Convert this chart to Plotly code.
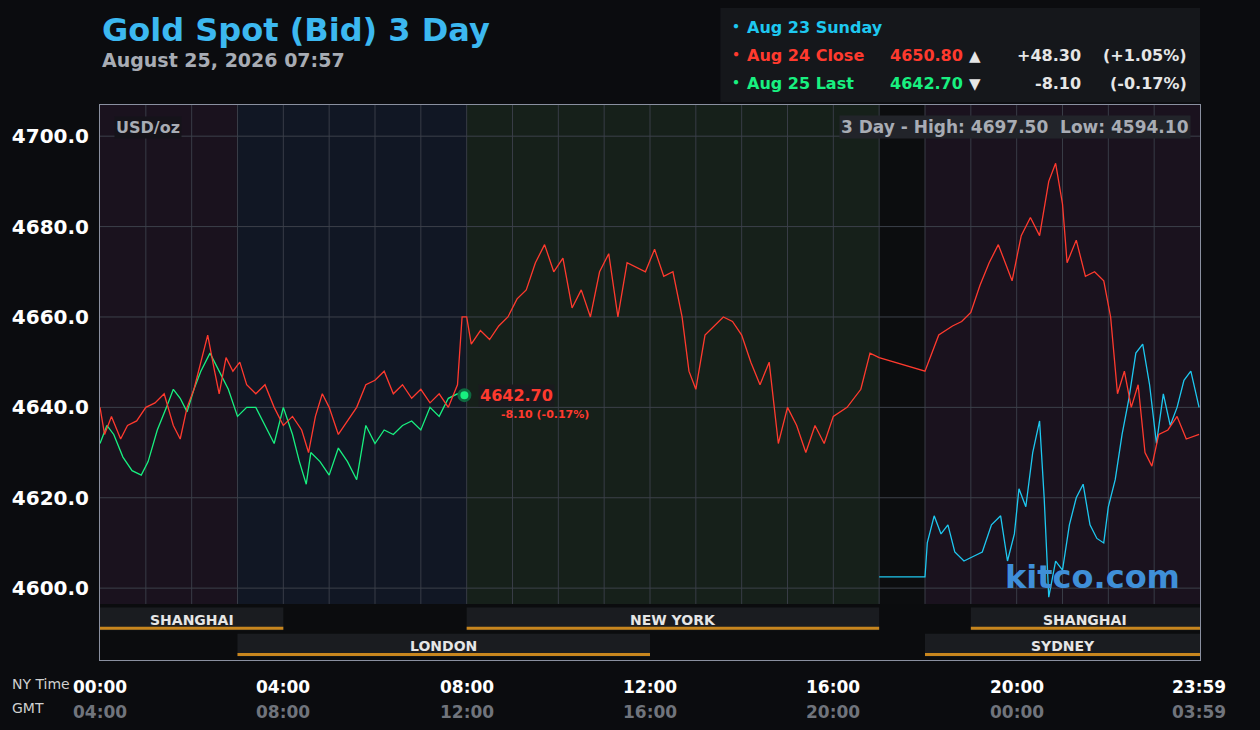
import plotly.graph_objects as go

# hours (NY time) and prices
red_h = [0, 0.1, 0.25, 0.45, 0.6, 0.8, 1.0, 1.2, 1.4, 1.6, 1.75, 1.9, 2.05, 2.2, 2.35, 2.5, 2.6, 2.75, 2.9, 3.05, 3.2, 3.4, 3.6, 3.8, 4.0,
         4.2, 4.4, 4.55, 4.7, 4.85, 5.0, 5.2, 5.4, 5.6, 5.8, 6.0, 6.2, 6.4, 6.6, 6.8, 7.0, 7.2, 7.4, 7.6, 7.8, 7.9, 8.0, 8.1,
         8.3, 8.5, 8.7, 8.9, 9.1, 9.3, 9.5, 9.7, 9.9, 10.1, 10.3, 10.5, 10.7, 10.9, 11.1, 11.3, 11.5, 11.7, 11.9, 12.1, 12.3,
         12.5, 12.7, 12.85, 13.0, 13.2, 13.4, 13.6, 13.8, 14.0, 14.2, 14.4, 14.6, 14.8, 15.0, 15.2, 15.4, 15.6, 15.8, 16.0,
         16.3, 16.6, 16.8, 17.0, 18.0, 18.1, 18.3, 18.6, 18.8, 19.0, 19.2, 19.4, 19.6, 19.9, 20.1, 20.3, 20.5, 20.7, 20.85,
         21.0, 21.1, 21.3, 21.5, 21.7, 21.9, 22.05, 22.2, 22.35, 22.5, 22.65, 22.8, 22.95, 23.1, 23.3, 23.5, 23.7, 23.98]
red_v = [4640, 4634, 4638, 4633, 4636, 4637, 4640, 4641, 4643, 4636, 4633, 4640, 4644, 4650, 4656, 4648, 4643, 4651, 4648, 4650, 4645, 4643, 4645, 4640, 4636,
         4638, 4635, 4630, 4638, 4643, 4640, 4634, 4637, 4640, 4645, 4646, 4648, 4643, 4645, 4642, 4644, 4641, 4643, 4640, 4645, 4660, 4660, 4654,
         4657, 4655, 4658, 4660, 4664, 4666, 4672, 4676, 4670, 4673, 4662, 4666, 4660, 4670, 4674, 4660, 4672, 4671, 4670, 4675, 4669,
         4670, 4660, 4648, 4644, 4656, 4658, 4660, 4659, 4656, 4650, 4645, 4650, 4632, 4640, 4636, 4630, 4636, 4632, 4638,
         4640, 4644, 4652, 4651, 4648, 4650.8, 4656, 4658, 4659, 4661, 4667, 4672, 4676, 4668, 4678, 4682, 4678, 4690, 4694,
         4685, 4672, 4677, 4669, 4670, 4668, 4660, 4643, 4648, 4640, 4645, 4630, 4627, 4634, 4635, 4638, 4633, 4634]
green_h = [0, 0.15, 0.3, 0.5, 0.7, 0.9, 1.05, 1.25, 1.45, 1.6, 1.75, 1.9, 2.05, 2.2, 2.4, 2.6, 2.8, 3.0, 3.2, 3.4, 3.6, 3.8, 4.0, 4.2,
           4.35, 4.5, 4.6, 4.8, 5.0, 5.2, 5.4, 5.6, 5.8, 6.0, 6.2, 6.4, 6.6, 6.8, 7.0, 7.2, 7.4, 7.6, 7.8, 7.95]
green_v = [4632, 4636, 4634, 4629, 4626, 4625, 4628, 4635, 4640, 4644, 4642, 4639, 4644, 4648, 4652, 4648, 4644, 4638, 4640, 4640, 4636, 4632, 4640, 4634,
           4628, 4623, 4630, 4628, 4625, 4631, 4628, 4624, 4636, 4632, 4635, 4634, 4636, 4637, 4635, 4640, 4638, 4642, 4643, 4642.7]
blue_h = [17.0, 18.0, 18.05, 18.2, 18.35, 18.5, 18.65, 18.85, 19.05, 19.25, 19.45, 19.65, 19.8, 19.95, 20.05, 20.2, 20.35, 20.5, 20.6,
          20.7, 20.85, 21.0, 21.15, 21.3, 21.45, 21.6, 21.75, 21.9, 22.0, 22.15, 22.3, 22.45, 22.6, 22.75, 22.9, 23.05, 23.2,
          23.35, 23.5, 23.65, 23.8, 23.98]
blue_v = [4602.5, 4602.5, 4610, 4616, 4612, 4614, 4608, 4606, 4607, 4608, 4614, 4616, 4606, 4612, 4622, 4618, 4630, 4637, 4620,
          4598, 4606, 4604, 4614, 4620, 4623, 4614, 4611, 4610, 4618, 4624, 4634, 4642, 4652, 4654, 4645, 4632, 4643,
          4636, 4640, 4646, 4648, 4640]

ticks_ny = ["00:00", "04:00", "08:00", "12:00", "16:00", "20:00", "23:59"]
ticks_gmt = ["04:00", "08:00", "12:00", "16:00", "20:00", "00:00", "03:59"]
tick_h = [0, 4, 8, 12, 16, 20, 23.98]

YLO, YHI = 4584.1, 4706.9
BAR_TOP = 4596.5
FONT = "DejaVu Sans"

fig = go.Figure()
fig.add_trace(go.Scatter(x=blue_h, y=blue_v, mode="lines", line=dict(color="#1ec8f0", width=1.3)))
fig.add_trace(go.Scatter(x=green_h, y=green_v, mode="lines", line=dict(color="#18f080", width=1.3)))
fig.add_trace(go.Scatter(x=red_h, y=red_v, mode="lines", line=dict(color="#ff3a2e", width=1.3)))
fig.add_trace(go.Scatter(x=[green_h[-1]], y=[green_v[-1]], mode="markers",
                         marker=dict(color="#18f080", size=11, line=dict(color="#0f6a40", width=3))))

shapes = []
for x0, x1, c in [(0, 3, "#1a121e"), (3, 8, "#111724"), (8, 17, "#16201a"), (17, 18, "#0c0d0f"), (18, 24, "#1a121e")]:
    shapes.append(dict(type="rect", x0=x0, x1=x1, y0=BAR_TOP, y1=YHI, fillcolor=c, line_width=0, layer="below"))
shapes.append(dict(type="rect", x0=0, x1=24, y0=YLO, y1=BAR_TOP, fillcolor="#0b0c0e", line_width=0, layer="below"))
for h in range(1, 24):
    shapes.append(dict(type="line", x0=h, x1=h, y0=BAR_TOP, y1=YHI, line=dict(color="#383c46", width=1), layer="below"))
for v in range(4600, 4701, 20):
    shapes.append(dict(type="line", x0=0, x1=24, y0=v, y1=v, line=dict(color="#3c404a", width=1), layer="below"))

ann = []
sessions = [(0, 4, 1, "SHANGHAI"), (8, 17, 1, "NEW YORK"), (19, 24, 1, "SHANGHAI"), (3, 12, 0, "LONDON"), (18, 24, 0, "SYDNEY")]
for x0, x1, row, name in sessions:
    yb = YLO + (0 if row == 0 else 5.8)
    shapes.append(dict(type="rect", x0=x0, x1=x1, y0=yb + 0.8, y1=yb + 5.8, fillcolor="#1a1c20", line_width=0, layer="below"))
    shapes.append(dict(type="line", x0=x0, x1=x1, y0=yb + 1.2, y1=yb + 1.2, line=dict(color="#c8861e", width=3), layer="below"))
    ann.append(dict(x=(x0 + x1) / 2, y=yb + 3.0, text="<b>" + name + "</b>", showarrow=False,
                    font=dict(color="#e6e6e6", size=14, family=FONT)))

for h, a, b in zip(tick_h, ticks_ny, ticks_gmt):
    ann.append(dict(x=h, y=-0.07, xref="x", yref="paper", text="<b>" + a + "</b>", showarrow=False,
                    font=dict(color="#ffffff", size=17, family=FONT)))
    ann.append(dict(x=h, y=-0.115, xref="x", yref="paper", text="<b>" + b + "</b>", showarrow=False,
                    font=dict(color="#70747c", size=17, family=FONT)))
ann.append(dict(x=-0.082, y=-0.061, xref="paper", yref="paper", xanchor="left", text="NY Time", showarrow=False,
                font=dict(color="#d0d0d0", size=14, family=FONT)))
ann.append(dict(x=-0.082, y=-0.105, xref="paper", yref="paper", xanchor="left", text="GMT", showarrow=False,
                font=dict(color="#d0d0d0", size=14, family=FONT)))

# labels inside plot
ann.append(dict(x=0.3, y=4702, text="<b>USD/oz</b>", showarrow=False, xanchor="left", bgcolor="#15131a",
                font=dict(color="#a8acb4", size=16, family=FONT)))
ann.append(dict(x=23.8, y=4702, text="<b>3 Day - High: 4697.50  Low: 4594.10</b>", showarrow=False, xanchor="right",
                bgcolor="#22242a", font=dict(color="#a8acb4", size=17, family=FONT)))
ann.append(dict(x=8.25, y=4642.7, text="<b>4642.70</b>", showarrow=False, xanchor="left", bgcolor="#1a1a1e",
                font=dict(color="#ff3a2e", size=16, family=FONT)))
ann.append(dict(x=8.7, y=4638.5, text="<b>-8.10 (-0.17%)</b>", showarrow=False, xanchor="left",
                font=dict(color="#ff3a2e", size=11, family=FONT)))
ann.append(dict(x=23.6, y=4602.5, text="<b>kitco.com</b>", showarrow=False, xanchor="right",
                font=dict(color="#3f8fd8", size=32, family=FONT)))

# title and legend box
ann.append(dict(x=0.0, y=1.135, xref="paper", yref="paper", xanchor="left", yanchor="middle",
                text="<b>Gold Spot (Bid) 3 Day</b>", showarrow=False, font=dict(color="#3cb8f0", size=32, family=FONT)))
ann.append(dict(x=0.0, y=1.081, xref="paper", yref="paper", xanchor="left", yanchor="middle",
                text="<b>August 25, 2026 07:57</b>", showarrow=False, font=dict(color="#a8acb4", size=19, family=FONT)))
shapes.append(dict(type="rect", xref="paper", yref="paper", x0=0.564, x1=1.0, y0=1.005, y1=1.175,
                   fillcolor="#15171b", line_width=0))
legend_rows = [
    ("#1ec8f0", "Aug 23 Sunday", "", "", "", ""),
    ("#ff3a2e", "Aug 24 Close", "4650.80", "\u25b2", "+48.30", "(+1.05%)"),
    ("#18f080", "Aug 25 Last", "4642.70", "\u25bc", "-8.10", "(-0.17%)"),
]
for i, (c, name, p, arrow, ch, pc) in enumerate(legend_rows):
    y = 1.139 - i * 0.0505
    ann.append(dict(x=0.578, y=y, xref="paper", yref="paper", yanchor="middle", yshift=3, text="\u25cf",
                    showarrow=False, font=dict(color=c, size=10)))
    ann.append(dict(x=0.586, y=y, xref="paper", yref="paper", xanchor="left", yanchor="middle", text="<b>" + name + "</b>",
                    showarrow=False, font=dict(color=c, size=16, family=FONT)))
    if p:
        ann.append(dict(x=0.786, y=y, xref="paper", yref="paper", xanchor="right", yanchor="middle", text="<b>" + p + "</b>",
                        showarrow=False, font=dict(color=c, size=16, family=FONT)))
        ann.append(dict(x=0.803, y=y, xref="paper", yref="paper", yanchor="middle", text=arrow,
                        showarrow=False, font=dict(color="#e6e6e6", size=15, family=FONT)))
        ann.append(dict(x=0.894, y=y, xref="paper", yref="paper", xanchor="right", yanchor="middle", text="<b>" + ch + "</b>",
                        showarrow=False, font=dict(color="#e6e6e6", size=16, family=FONT)))
        ann.append(dict(x=0.99, y=y, xref="paper", yref="paper", xanchor="right", yanchor="middle", text="<b>" + pc + "</b>",
                        showarrow=False, font=dict(color="#e6e6e6", size=16, family=FONT)))

fig.update_layout(
    width=1260, height=730, showlegend=False,
    paper_bgcolor="#0b0c0f", plot_bgcolor="#0b0c0f",
    margin=dict(l=100, r=60, t=105, b=70),
    xaxis=dict(range=[0, 24], showgrid=False, zeroline=False, showticklabels=False,
               showline=True, mirror=True, linecolor="#8a90a0"),
    yaxis=dict(range=[YLO, YHI], tickvals=list(range(4600, 4701, 20)),
               ticktext=["%.1f" % v for v in range(4600, 4701, 20)], showgrid=False, zeroline=False,
               tickfont=dict(color="#ffffff", size=20, family=FONT, weight="bold"), ticklabelstandoff=6,
               showline=True, mirror=True, linecolor="#8a90a0"),
    shapes=shapes, annotations=ann,
)
fig.write_html("out.html", config={"displayModeBar": False}, post_script="document.body.style.margin='0';")
